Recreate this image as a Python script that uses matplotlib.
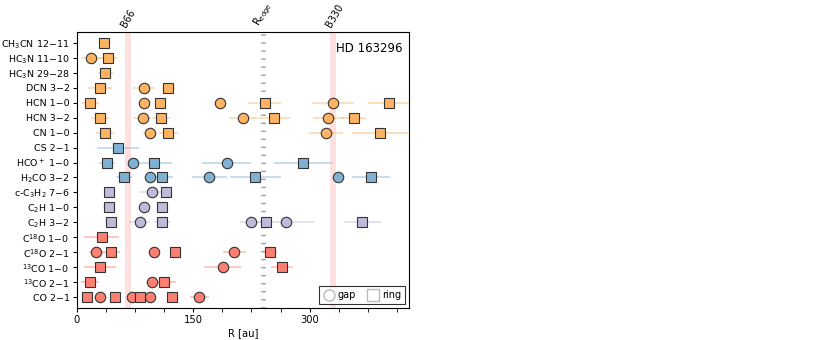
import matplotlib
matplotlib.use("Agg")
import matplotlib.pyplot as plt
from matplotlib.colors import to_rgba
from matplotlib.lines import Line2D
from matplotlib.ticker import MultipleLocator

# species (top to bottom) and their colour group
molecules = ["CH$_3$CN 12\u221211", "HC$_3$N 11\u221210", "HC$_3$N 29\u221228",
             "DCN 3\u22122", "HCN 1\u22120", "HCN 3\u22122", "CN 1\u22120",
             "CS 2\u22121", "HCO$^+$ 1\u22120", "H$_2$CO 3\u22122",
             "c-C$_3$H$_2$ 7\u22126", "C$_2$H 1\u22120", "C$_2$H 3\u22122",
             "C$^{18}$O 1\u22120", "C$^{18}$O 2\u22121", "$^{13}$CO 1\u22120",
             "$^{13}$CO 2\u22121", "CO 2\u22121"]
groups = [0, 0, 0, 0, 0, 0, 0, 1, 1, 1, 2, 2, 2, 3, 3, 3, 3, 3]
group_colors = ["#fdb462", "#80b1d3", "#bebada", "#fb8072"]

# gap radii [au] and uncertainties
gap_r = [[], [18], [], [87], [87, 185, 330], [85, 214, 324], [94, 321],
         [], [72, 193], [95, 171, 337], [97], [87], [81, 224, 269],
         [], [25, 99, 203], [188], [97], [30, 71, 94, 158]]
gap_err = [[], [13], [], [14], [4, 6, 27], [11, 18, 20], [8, 22],
           [], [4, 31], [5, 23, 4], [15], [4], [13, 14, 36],
           [], [9, 4, 15], [24], [4], [3, 4, 8, 12]]

# ring radii [au] and uncertainties
ring_r = [[35], [40], [37], [30, 118], [17, 107, 242, 402], [30, 109, 254, 357],
          [37, 118, 391], [53], [39, 100, 292], [61, 110, 230, 379], [42, 115],
          [41, 110], [44, 110, 244, 368], [32], [44, 126, 249], [30, 264],
          [17, 113], [13, 49, 82, 123]]
ring_err = [[3], [12], [10], [15, 8], [12, 4, 21, 27], [11, 11, 21, 16],
            [12, 12, 36], [27], [10, 23, 38], [10, 14, 33, 24], [7, 5],
            [7, 7], [7, 10, 4, 24], [22], [12, 4, 9], [20, 14],
            [12, 15], [3, 3, 3, 3]]

features = [66, 330]
feature_labels = ["B66", "B330"]
r_edge = 240

fig = plt.figure(figsize=(8.3, 3.4), dpi=100)
ax = fig.add_axes([0.0924, 0.094, 0.4004, 0.812])

for f in features:
    ax.axvspan(f - 4, f + 4, color="red", alpha=0.12, lw=0, zorder=0)
ax.axvline(r_edge, color="gray", alpha=0.7, lw=3.5, ls=(0, (0.3, 1.35)), zorder=0)

for i in range(len(molecules)):
    c = group_colors[groups[i]]
    ec = to_rgba(c, 0.5)
    if gap_r[i]:
        ax.errorbar(gap_r[i], [i] * len(gap_r[i]), xerr=gap_err[i], fmt="o",
                    ms=7.5, mfc=c, mec="#333333", mew=0.8, ecolor=ec,
                    elinewidth=1.2, capsize=0, zorder=3)
    if ring_r[i]:
        ax.errorbar(ring_r[i], [i] * len(ring_r[i]), xerr=ring_err[i], fmt="s",
                    ms=6.5, mfc=c, mec="#333333", mew=0.8, ecolor=ec,
                    elinewidth=1.2, capsize=0, zorder=3)

ax.set_yticks(range(len(molecules)))
ax.set_yticklabels(molecules, fontsize=6.8)
ax.set_ylim(len(molecules) - 1 + 0.72, -0.72)
ax.set_xlim(0, 428)
ax.xaxis.set_major_locator(MultipleLocator(150))
ax.xaxis.set_minor_locator(MultipleLocator(37.5))
ax.tick_params(axis="x", which="both", labelsize=7.2, length=3, pad=2)
ax.tick_params(axis="y", length=3, pad=2)
ax.set_xlabel("R [au]", fontsize=7.2, labelpad=2)

for f, lab in zip(features, feature_labels):
    ax.text(f, 1.01, lab, transform=ax.get_xaxis_transform(), rotation=60,
            fontsize=7, ha="left", va="bottom", rotation_mode="anchor")
ax.text(r_edge, 1.01, "R$_{\\rm edge}$", transform=ax.get_xaxis_transform(),
        rotation=60, fontsize=7, ha="left", va="bottom", rotation_mode="anchor")

ax.text(0.98, 0.965, "HD 163296", transform=ax.transAxes, ha="right", va="top",
        fontsize=8.5)

handles = [Line2D([], [], ls="none", marker="o", ms=8, mfc="white", mec="#bbbbbb"),
           Line2D([], [], ls="none", marker="s", ms=8, mfc="white", mec="#bbbbbb")]
leg = ax.legend(handles, ["gap", "ring"], loc="lower right", ncol=2, fontsize=7,
                fancybox=False, edgecolor="black", handletextpad=0.3,
                columnspacing=1.2, borderaxespad=0.4, handlelength=1.2)
leg.get_frame().set_linewidth(0.8)

fig.savefig("out.png", dpi=100)
